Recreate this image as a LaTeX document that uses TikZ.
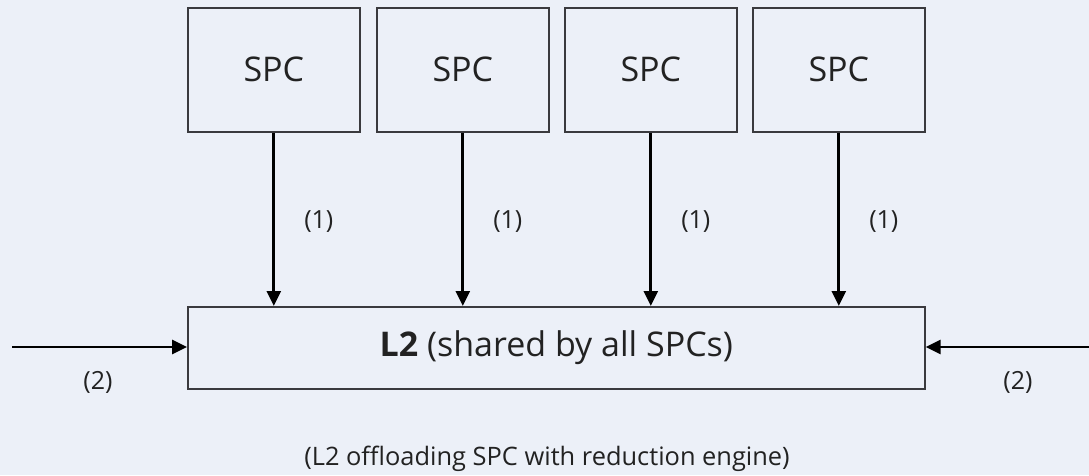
\documentclass[tikz,border=0pt]{standalone}
\usepackage{fontspec}
\setmainfont{Open Sans}
\usetikzlibrary{arrows.meta}
\definecolor{bgcol}{HTML}{ECF0F8}
\definecolor{boxline}{HTML}{3A3A3E}
\definecolor{ink}{HTML}{222222}
\tikzset{
  unitbox/.style={draw=boxline, line width=1.6pt, fill=bgcol, inner sep=0pt, text=ink},
  flow/.style={line width=2.8pt, -{Triangle[length=15pt,width=14pt]}},
  tag/.style={font=\fontsize{25}{29}\selectfont, text=ink},
}
\begin{document}
\begin{tikzpicture}[x=1pt,y=-1pt]
  \fill[bgcol] (0,0) rectangle (1089,475);
  \useasboundingbox (0,0) rectangle (1089,475);

  % four processing cores
  \foreach \i/\x in {1/187,2/376,3/564,4/752}{
    \node[unitbox, minimum width=172pt, minimum height=124pt, anchor=north west,
          font=\fontsize{34}{39}\selectfont] (spc\i) at (\x,7) {SPC};
  }

  % shared cache
  \node[unitbox, minimum width=737pt, minimum height=82pt, anchor=north west,
        font=\fontsize{34}{39}\selectfont] (l2) at (187,306)
        {\textbf{L2} (shared by all SPCs)};

  % core-to-cache requests
  \foreach \i in {1,...,4}{
    \draw[flow] (spc\i.south) -- (spc\i.south |- l2.north);
    \node[tag] (t\i) at ([xshift=45pt]spc\i.south |- 0,222) {(1)};
  }

  % external inputs
  \coordinate (inL) at (12,347);
  \coordinate (inR) at (1089,347);
  \draw[flow] (inL) -- (inL -| l2.west);
  \draw[flow] (inR) -- (inR -| l2.east);
  \node[tag] (tl) at (98,382) {(2)};
  \node[tag] (tr) at (1018,382) {(2)};

  % caption
  \node[font=\fontsize{25.4}{29}\selectfont, text=ink] (cap) at (547,459)
    {(L2 offloading SPC with reduction engine)};
\end{tikzpicture}
\end{document}
